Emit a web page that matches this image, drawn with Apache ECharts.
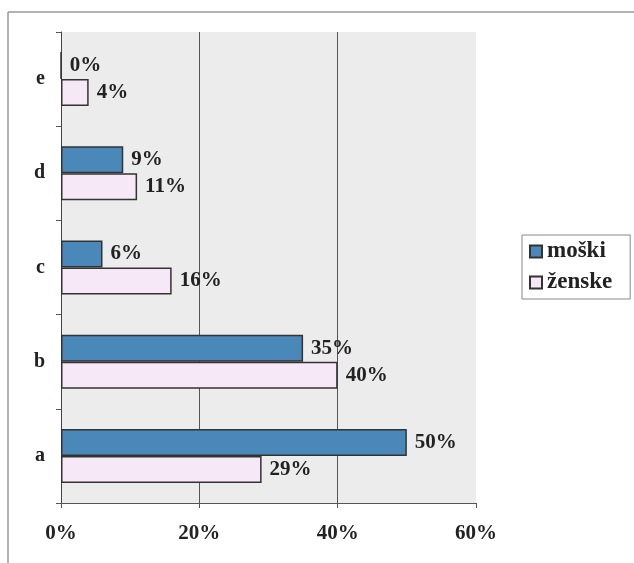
<!DOCTYPE html>
<html><head><meta charset="utf-8">
<script src="https://cdn.jsdelivr.net/npm/echarts@6/dist/echarts.min.js"></script>
<style>html,body{margin:0;padding:0;background:#fff}#c{width:634px;height:563px}</style>
</head><body><div id="c"></div>
<script>
const categories = ['a', 'b', 'c', 'd', 'e'];
const moski = [50, 35, 6, 9, 0];
const zenske = [29, 40, 16, 11, 4];
const xTicks = [0, 20, 40, 60];

const font = '"Liberation Serif", "DejaVu Serif", serif';
const chart = echarts.init(document.getElementById('c'), null, {renderer: 'canvas'});
const lbl = {show: true, position: 'right', distance: 8, formatter: '{c}%', fontFamily: font, fontWeight: 'bold', fontSize: 21, color: '#222'};
chart.setOption({
  animation: false,
  backgroundColor: '#fff',
  graphic: [
    {type: 'line', shape: {x1: 8, y1: 12, x2: 634, y2: 12}, style: {stroke: '#999', lineWidth: 1.5}},
    {type: 'line', shape: {x1: 8, y1: 12, x2: 8, y2: 563}, style: {stroke: '#999', lineWidth: 1.5}}
  ],
  grid: {left: 61, right: 158, top: 32, bottom: 60, show: true, backgroundColor: '#ececec', borderWidth: 0},
  legend: {
    data: ['moški', 'ženske'], orient: 'vertical', left: 522, top: 235, icon: 'rect',
    itemWidth: 12, itemHeight: 12, itemGap: 8, padding: [5, 18, 5, 7],
    borderColor: '#888', borderWidth: 1,
    textStyle: {fontFamily: font, fontWeight: 'bold', fontSize: 23, color: '#222'}
  },
  xAxis: {
    type: 'value', min: 0, max: 60, interval: 20,
    axisLine: {show: true, lineStyle: {color: '#555'}},
    axisTick: {show: true, length: 5, lineStyle: {color: '#555'}},
    axisLabel: {formatter: v => xTicks.includes(v) ? v + '%' : '', fontFamily: font, fontWeight: 'bold', fontSize: 21, color: '#222', margin: 20},
    splitLine: {show: true, showMinLine: false, showMaxLine: false, lineStyle: {color: '#555', width: 1}}
  },
  yAxis: {
    type: 'category', data: categories,
    axisLine: {show: true, lineStyle: {color: '#444'}},
    axisTick: {show: true, length: 5, lineStyle: {color: '#555'}},
    axisLabel: {fontFamily: font, fontWeight: 'bold', fontSize: 20, color: '#222', margin: 16}
  },
  series: [
    {name: 'moški', type: 'bar', data: moski, barWidth: 27, barGap: '0%',
     itemStyle: {color: '#4a88ba', borderColor: '#333', borderWidth: 1.5}, label: lbl},
    {name: 'ženske', type: 'bar', data: zenske, barWidth: 27, barGap: '0%',
     itemStyle: {color: '#f6e8f6', borderColor: '#333', borderWidth: 1.5}, label: lbl}
  ]
});
</script></body></html>
